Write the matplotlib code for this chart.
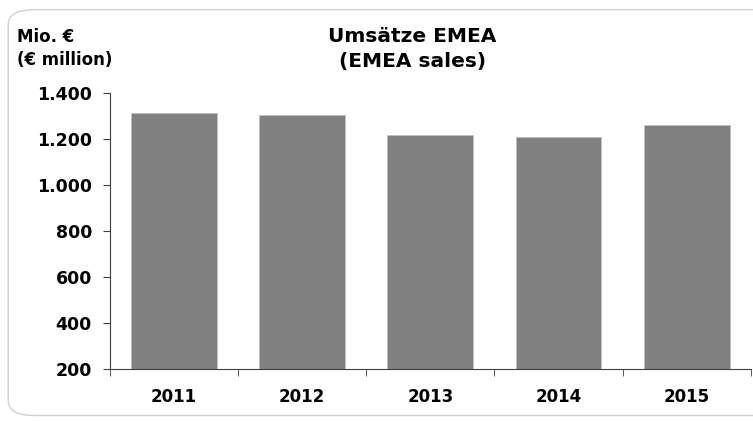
import matplotlib
matplotlib.use("Agg")
import matplotlib.pyplot as plt
from matplotlib.patches import FancyBboxPatch
from matplotlib.ticker import FuncFormatter, FixedLocator

years = ["2011", "2012", "2013", "2014", "2015"]
sales = [1313, 1303, 1219, 1207, 1259]
yticks = [200, 400, 600, 800, 1000, 1200, 1400]

plt.rcParams['font.family'] = ['DejaVu Sans']
fig = plt.figure(figsize=(7.53, 4.21), dpi=100)
border = FancyBboxPatch((0.011, 0.013), 1.05, 0.964, boxstyle="round,pad=0,rounding_size=0.035",
                        transform=fig.transFigure, facecolor="white", edgecolor="#d0d0d0", lw=1,
                        zorder=-5)
fig.patches.append(border)

ax = fig.add_axes([0.146, 0.1235, 0.851, 0.6555])
ax.set_zorder(2)
ax.patch.set_alpha(0)
x = list(range(len(years)))
ax.bar(x, sales, width=0.67, color="#808080", edgecolor="#bfbfbf", linewidth=0.6, bottom=0)
ax.set_ylim(200, 1400)
ax.set_xlim(-0.5, 4.5)
ax.yaxis.set_major_locator(FixedLocator(yticks))
ax.yaxis.set_major_formatter(FuncFormatter(lambda v, p: f"{int(v):,}".replace(",", ".")))
ax.set_xticks(x)
ax.set_xticklabels(years)
ax.set_xticks([i - 0.5 for i in range(len(years) + 1)], minor=True)
ax.tick_params(axis="x", which="major", length=0, pad=14, labelsize=12)
ax.tick_params(axis="x", which="minor", length=5, color="#404040", direction="out")
ax.tick_params(axis="y", length=5, color="#404040", labelsize=12.5, pad=8)
for lbl in ax.get_xticklabels() + ax.get_yticklabels():
    lbl.set_fontweight("bold")
for s in ["top", "right"]:
    ax.spines[s].set_visible(False)
ax.spines["left"].set_color("#404040")
ax.spines["bottom"].set_color("#404040")

fig.text(0.548, 0.884, "Umsätze EMEA\n(EMEA sales)", ha="center", va="center",
         fontsize=14.5, fontweight="bold", linespacing=1.4)
fig.text(0.022, 0.885, "Mio. €\n(€ million)", ha="left", va="center",
         fontsize=12, fontweight="bold", linespacing=1.4)

fig.savefig("out.png", dpi=100)
